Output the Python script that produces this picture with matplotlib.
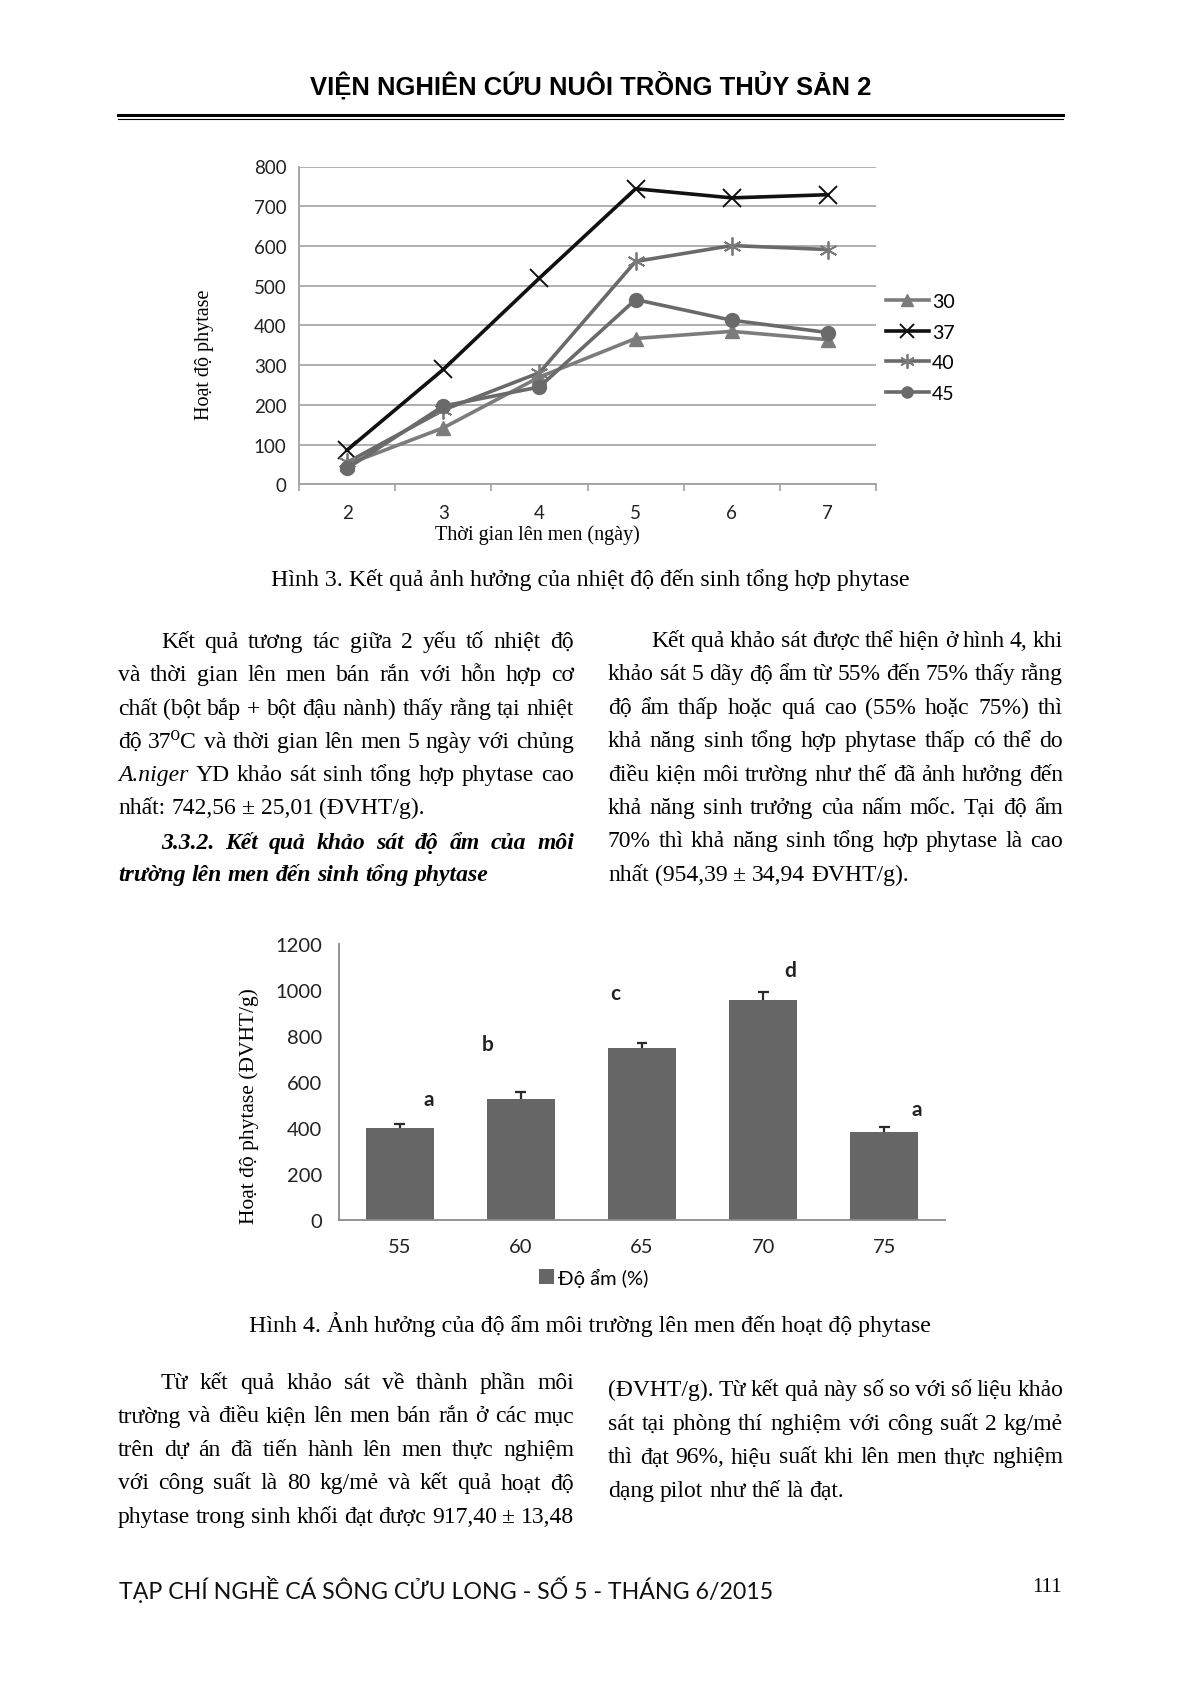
import matplotlib
matplotlib.use('Agg')
import matplotlib.pyplot as plt
from matplotlib.lines import Line2D
import numpy as np

W, H = 1181, 1683
DPI = 100

# ---- Hinh 3: phytase activity vs fermentation time, by temperature
days = ['2', '3', '4', '5', '6', '7']
act_30 = [50, 142, 270, 367, 385, 364]
act_37 = [86, 289, 519, 744, 721, 729]
act_40 = [55, 187, 281, 561, 601, 591]
act_45 = [40, 197, 245, 465, 413, 382]

# ---- Hinh 4: phytase activity vs moisture
moisture = ['55', '60', '65', '70', '75']
phytase = [400, 524, 745, 954, 381]
phytase_err = [18, 32, 25, 35, 23]
groups = ['a', 'b', 'c', 'd', 'a']

SERIF = ['Liberation Serif', 'DejaVu Serif']
SANS = ['Lato', 'DejaVu Sans']

fig = plt.figure(figsize=(W / DPI, H / DPI), dpi=DPI)
fig.patch.set_facecolor('white')
renderer = fig.canvas.get_renderer()


def fx(px):
    return px / W


def fy(py):
    return 1 - py / H


def fit_text(x, y, s, width, ha='center', **kw):
    # draw text and rescale font size so it spans the given pixel width
    t = fig.text(fx(x), fy(y), s, ha=ha, va='baseline', **kw)
    w = t.get_window_extent(renderer).width
    t.set_fontsize(t.get_fontsize() * width / w)
    return t


BODY_SIZE = 17.0


def para(lines, x0, x1, y0, step, indent=43, **kw):
    # lines: list of strings; first line indented, last line not justified
    for i, line in enumerate(lines):
        if not line:
            continue
        y = y0 + i * step
        words = line.split(' ')
        left = x0 + (indent if i == 0 else 0)
        texts = []
        for w in words:
            style = kw.get('style', 'normal')
            if w.startswith('_'):
                w = w[1:]
                style = 'italic'
            t = fig.text(0, fy(y), w, fontsize=BODY_SIZE, family=SERIF,
                         va='baseline', ha='left', style=style,
                         weight=kw.get('weight', 'normal'))
            texts.append(t)
        widths = [t.get_window_extent(renderer).width for t in texts]
        space = BODY_SIZE * DPI / 72 * 0.25
        if (i < len(lines) - 1 and lines[i + 1]) or kw.get('justify_last'):
            gap = (x1 - left - sum(widths)) / (len(texts) - 1)
        else:
            gap = space
        xx = left
        for t, w in zip(texts, widths):
            t.set_x(fx(xx))
            xx += w + gap


# ---- header
fit_text(591, 95, 'VIỆN NGHIÊN CỨU NUÔI TRỒNG THỦY SẢN 2', 561,
         fontsize=20, weight='bold', family=['Liberation Sans Narrow', 'Liberation Sans'])
fig.add_artist(Line2D([fx(118), fx(1063)], [fy(116), fy(116)], color='black', lw=2.2))
fig.add_artist(Line2D([fx(118), fx(1063)], [fy(120), fy(120)], color='black', lw=0.8))

# ---- chart 1
ax1 = fig.add_axes([fx(299), fy(485.3), (876 - 299) / W, (485.3 - 167.5) / H])
x1 = np.arange(len(days))
ax1.set_xlim(-0.5, len(days) - 0.5)
ax1.set_ylim(0, 800)
ax1.set_yticks(range(0, 801, 100))
ax1.set_xticks(x1)
ax1.set_xticklabels(days)
ax1.set_xticks(np.arange(-0.5, len(days)), minor=True)
ax1.yaxis.grid(True, color='#a8a8a8', lw=1.3)
ax1.set_axisbelow(True)
ax1.plot(x1, act_30, color='#7c7c7c', lw=2.6, marker='^', ms=10, label='30')
ax1.plot(x1, act_37, color='#111111', lw=2.6, marker='x', ms=13, mew=1.4, label='37')
ax1.plot(x1, act_40, color='#6a6a6a', lw=2.6, marker=(6, 2, 0), ms=13, mew=1.3,
         mec='#7a7a7a', label='40')
ax1.plot(x1, act_45, color='#6a6a6a', lw=2.6, marker='o', ms=10, label='45')
for s in ['top', 'right']:
    ax1.spines[s].set_visible(False)
for s in ['left', 'bottom']:
    ax1.spines[s].set_color('#a0a0a0')
    ax1.spines[s].set_linewidth(1.3)
ax1.tick_params(axis='x', which='major', length=0, pad=14, labelsize=13.5,
                labelcolor='#222222')
ax1.tick_params(axis='x', which='minor', length=5, color='#a0a0a0', width=1.2)
ax1.tick_params(axis='y', length=0, pad=9, labelsize=13.5, labelcolor='#222222')
for lab in ax1.get_xticklabels() + ax1.get_yticklabels():
    lab.set_family(SANS)
ax1.legend(loc='upper left', bbox_to_anchor=(fx(886), fy(294)),
           bbox_transform=fig.transFigure, frameon=False, borderpad=0,
           borderaxespad=0, handlelength=2.2, handletextpad=0.15,
           labelspacing=0.7, markerscale=0.8,
           prop={'family': SANS, 'size': 14})
fig.text(fx(204), fy(355), 'Hoạt độ phytase', rotation=90, ha='center', va='center',
         family=SERIF, fontsize=14.5)
fig.text(fx(537), fy(535), 'Thời gian lên men (ngày)', ha='center', va='center',
         family=SERIF, fontsize=14.5)

fit_text(590, 586, 'Hình 3. Kết quả ảnh hưởng của nhiệt độ đến sinh tổng hợp phytase',
         640, fontsize=16, family=SERIF)

# ---- middle text
para(['Kết quả tương tác giữa 2 yếu tố nhiệt độ',
      'và thời gian lên men bán rắn với hỗn hợp cơ',
      'chất (bột bắp + bột đậu nành) thấy rằng tại nhiệt',
      'độ 37⁰C và thời gian lên men 5 ngày với chủng',
      '_A.niger YD khảo sát sinh tổng hợp phytase cao',
      'nhất: 742,56 ± 25,01 (ĐVHT/g).'], 118, 574, 648, 33.3)
para(['3.3.2. Kết quả khảo sát độ ẩm của môi',
      'trường lên men đến sinh tổng phytase'], 118, 574, 849, 32,
     style='italic', weight='bold')
para(['Kết quả khảo sát được thể hiện ở hình 4, khi',
      'khảo sát 5 dãy độ ẩm từ 55% đến 75% thấy rằng',
      'độ ẩm thấp hoặc quá cao (55% hoặc 75%) thì',
      'khả năng sinh tổng hợp phytase thấp có thể do',
      'điều kiện môi trường như thế đã ảnh hưởng đến',
      'khả năng sinh trưởng của nấm mốc. Tại độ ẩm',
      '70% thì khả năng sinh tổng hợp phytase là cao',
      'nhất (954,39 ± 34,94 ĐVHT/g).'], 608, 1063, 647, 33.4)

# ---- chart 2
ax2 = fig.add_axes([fx(339), fy(1220.7), (945 - 339) / W, (1220.7 - 944.8) / H])
x2 = np.arange(len(moisture))
ax2.bar(x2, phytase, width=0.56, color='#666666', label='Độ ẩm (%)', zorder=2)
top = np.array(phytase) + np.array(phytase_err)
ax2.vlines(x2, phytase, top, color='#2a2a2a', lw=1.6, zorder=3)
ax2.hlines(top, x2 - 0.045, x2 + 0.045, color='#2a2a2a', lw=1.6, zorder=3)
ax2.set_xlim(-0.5, len(moisture) - 0.5)
ax2.set_ylim(0, 1200)
ax2.set_yticks(range(0, 1201, 200))
ax2.set_xticks(x2)
ax2.set_xticklabels(moisture)
for s in ['top', 'right']:
    ax2.spines[s].set_visible(False)
for s in ['left', 'bottom']:
    ax2.spines[s].set_color('#8a8a8a')
    ax2.spines[s].set_linewidth(1.3)
ax2.tick_params(axis='x', length=0, pad=13, labelsize=14.5, labelcolor='#222222')
ax2.tick_params(axis='y', length=0, pad=12, labelsize=14.5, labelcolor='#222222')
for lab in ax2.get_xticklabels() + ax2.get_yticklabels():
    lab.set_family(SANS)
# significance letters (hand placed as in the original figure)
letter_dx = [0.24, -0.27, -0.22, 0.22, 0.27]
letter_y = [525, 766, 985, 1088, 482]
for xi, g, dx, ly in zip(x2, groups, letter_dx, letter_y):
    ax2.text(xi + dx, ly, g, ha='center', va='center', fontsize=15,
             weight='bold', family=SANS, color='#222222')
ax2.legend(loc='center', bbox_to_anchor=(fx(594), fy(1278)),
           bbox_transform=fig.transFigure, frameon=False, borderpad=0,
           handlelength=0.75, handleheight=0.75, handletextpad=0.2,
           prop={'family': SANS, 'size': 14.5})
fig.text(fx(249), fy(1106), 'Hoạt độ phytase (ĐVHT/g)', rotation=90, ha='center',
         va='center', family=SERIF, fontsize=15.5)

fit_text(590, 1332, 'Hình 4. Ảnh hưởng của độ ẩm môi trường lên men đến hoạt độ phytase',
         683, fontsize=16, family=SERIF)

# ---- bottom text
para(['Từ kết quả khảo sát về thành phần môi',
      'trường và điều kiện lên men bán rắn ở các mục',
      'trên dự án đã tiến hành lên men thực nghiệm',
      'với công suất là 80 kg/mẻ và kết quả hoạt độ',
      'phytase trong sinh khối đạt được 917,40 ± 13,48'], 118, 574, 1389, 33.5,
     justify_last=True)
para(['(ĐVHT/g). Từ kết quả này số so với số liệu khảo',
      'sát tại phòng thí nghiệm với công suất 2 kg/mẻ',
      'thì đạt 96%, hiệu suất khi lên men thực nghiệm',
      'dạng pilot như thế là đạt.'], 608, 1063, 1396, 33.7, indent=0)

# ---- footer
fit_text(119, 1599, 'TẠP CHÍ NGHỀ CÁ SÔNG CỬU LONG - SỐ 5 - THÁNG 6/2015', 653,
         ha='left', fontsize=16, family=['Lato', 'DejaVu Sans'], color='#111111')
fig.text(fx(1062), fy(1592), '111', ha='right', va='baseline', family=SERIF,
         fontsize=15)

fig.savefig('out.png', dpi=DPI)
